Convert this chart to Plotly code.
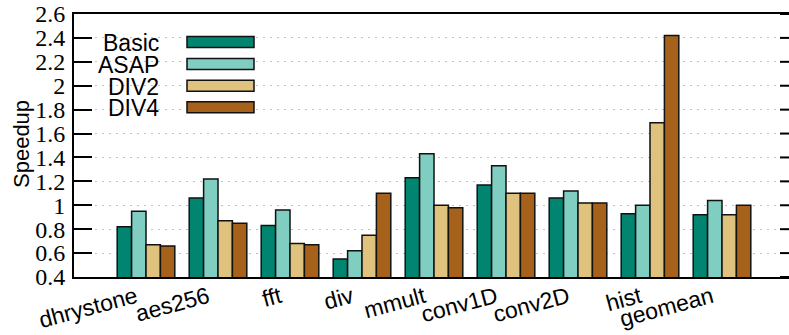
import plotly.graph_objects as go

categories = ["dhrystone", "aes256", "fft", "div", "mmult", "conv1D", "conv2D", "hist", "geomean"]
basic = [0.82, 1.06, 0.83, 0.55, 1.23, 1.17, 1.06, 0.93, 0.92]
asap = [0.95, 1.22, 0.96, 0.62, 1.43, 1.33, 1.12, 1.00, 1.04]
div2 = [0.67, 0.87, 0.68, 0.75, 1.00, 1.10, 1.02, 1.69, 0.92]
div4 = [0.66, 0.85, 0.67, 1.10, 0.98, 1.10, 1.02, 2.42, 1.00]
series_names = ["Basic", "ASAP", "DIV2", "DIV4"]
series_values = [basic, asap, div2, div4]
colors = ["#018571", "#80cdc1", "#dfc27d", "#a6611a"]
ytick_vals = [0.4, 0.6, 0.8, 1.0, 1.2, 1.4, 1.6, 1.8, 2.0, 2.2, 2.4, 2.6]
ytick_text = ["0.4", "0.6", "0.8", "1", "1.2", "1.4", "1.6", "1.8", "2", "2.2", "2.4", "2.6"]

W, H = 789, 335
ML, MR, MT, MB = 74, 0, 14, 58
PW = W - ML - MR
PH = H - MT - MB


def px_x(p):
    return (p - ML) / PW


def px_y(p):
    return (H - MB - p) / PH


fig = go.Figure()
for name, vals, col in zip(series_names, series_values, colors):
    fig.add_trace(go.Bar(
        x=categories, y=vals, name=name,
        marker=dict(color=col, line=dict(color="#111111", width=1.5)),
        showlegend=False,
    ))

shapes = []
annotations = []

# white legend background covering grid lines
shapes.append(dict(type="rect", xref="paper", yref="paper",
                   x0=px_x(80), x1=px_x(266), y0=px_y(120), y1=px_y(27),
                   fillcolor="white", line=dict(width=0), layer="below"))

row_y = [42, 64, 85.7, 107.3]
for name, col, cy in zip(series_names, colors, row_y):
    shapes.append(dict(type="rect", xref="paper", yref="paper",
                       x0=px_x(187), x1=px_x(254), y0=px_y(cy + 5.5), y1=px_y(cy - 5.5),
                       fillcolor=col, line=dict(color="#111111", width=1.5), layer="above"))
    annotations.append(dict(text=name, xref="paper", yref="paper",
                            x=px_x(161), y=px_y(cy + 1), xanchor="right", yanchor="middle",
                            showarrow=False,
                            font=dict(family="Liberation Sans", size=23, color="black")))

# right-side inward ticks
for v in ytick_vals:
    shapes.append(dict(type="line", xref="paper", yref="y",
                       x0=1 - 9 / PW, x1=1, y0=v, y1=v,
                       line=dict(color="black", width=2), layer="above"))

annotations.append(dict(text="Speedup", xref="paper", yref="paper",
                        x=px_x(21), y=px_y(144), textangle=-90,
                        xanchor="center", yanchor="middle", showarrow=False,
                        font=dict(family="Liberation Sans", size=22, color="black")))

fig.update_layout(
    width=W, height=H, autosize=False,
    margin=dict(l=ML, r=MR, t=MT, b=MB, pad=0, autoexpand=False),
    paper_bgcolor="white", plot_bgcolor="white",
    barmode="group", bargap=0.2, bargroupgap=0,
    shapes=shapes, annotations=annotations,
    showlegend=False,
)
fig.update_xaxes(
    automargin=False,
    range=[-1, -1 + PW / 72.0],
    showline=True, linecolor="black", linewidth=2, mirror=True,
    ticks="", showgrid=False,
    tickangle=-15,
    tickfont=dict(family="Liberation Sans", size=23, color="black"),
    ticklabelshift=-10, ticklabelstandoff=-4,
)
fig.update_yaxes(
    automargin=False,
    range=[0.4, 2.6],
    tickvals=ytick_vals, ticktext=ytick_text,
    showline=True, linecolor="black", linewidth=2, mirror=False,
    ticks="inside", ticklen=18, tickwidth=2, tickcolor="black",
    showgrid=True, gridcolor="#c0c0c0", gridwidth=1, griddash="2px,5px",
    zeroline=False,
    tickfont=dict(family="Liberation Serif", size=24, color="black"),
    ticklabelstandoff=2,
)

fig.write_html(
    "out.html",
    config={"displayModeBar": False},
    post_script="document.body.style.margin='0';document.body.style.overflow='hidden';",
)
